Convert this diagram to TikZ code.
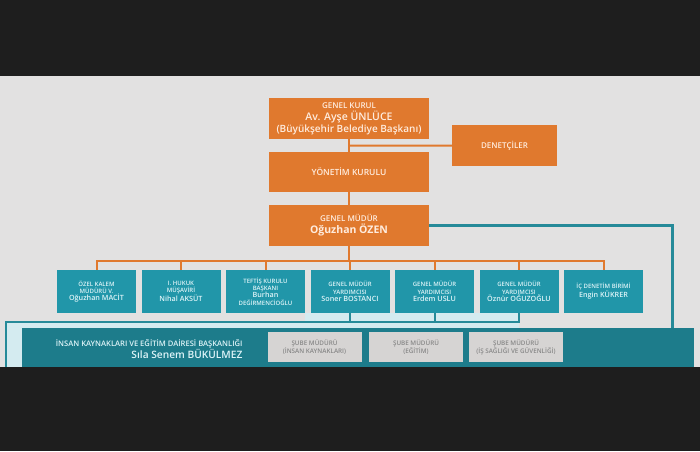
\documentclass[tikz,border=0pt]{standalone}
\usepackage{fontspec}
\IfFontExistsTF{Open Sans SemiBold}
	{\setmainfont{Open Sans SemiBold}[BoldFont=Open Sans Bold]}
	{\IfFontExistsTF{Open Sans Semibold}
		{\setmainfont{Open Sans Semibold}[BoldFont=Open Sans Bold]}
		{\setmainfont{Open Sans}}}
\usepackage{xcolor}
\usetikzlibrary{calc}
\definecolor{orgfill}{RGB}{224,121,46}
\definecolor{orgtext}{RGB}{255,236,222}
\definecolor{tealfill}{RGB}{33,150,169}
\definecolor{tealtext}{RGB}{222,244,248}
\definecolor{tealdark}{RGB}{29,124,139}
\definecolor{teallink}{RGB}{38,138,153}
\definecolor{framefill}{RGB}{212,235,240}
\definecolor{subefill}{RGB}{214,212,211}
\definecolor{subetext}{RGB}{135,135,135}
\definecolor{pagegrey}{RGB}{226,225,225}
\definecolor{bandblack}{RGB}{30,30,30}
\newcommand{\fsz}[2]{\fontsize{#1}{#2}\selectfont}
\tikzset{
	orgbox/.style={fill=orgfill, text=orgtext, align=center, inner sep=0pt,
			minimum width=160pt, minimum height=41pt},
	tealbox/.style={fill=tealfill, text=tealtext, align=center, inner sep=0pt,
			minimum width=79pt, minimum height=43pt, font=\fsz{6}{7.3}},
	subebox/.style={fill=subefill, text=subetext, align=center, inner sep=0pt,
			minimum width=94pt, minimum height=30pt, font=\fsz{6.3}{7.8}},
	orgline/.style={draw=orgfill, line width=2pt},
	tline/.style={draw=teallink, line width=2pt},
	gmline/.style={draw=teallink, line width=3pt}
}

\begin{document}
\begin{tikzpicture}[x=1pt,y=-1pt]
		\fill[bandblack] (0,0) rectangle (700,451);
		\fill[pagegrey] (0,76) rectangle (700,367);
		% light frame round the daire
		\fill[framefill] (6,322) rectangle (519,367);
		\fill[framefill] (305,313) rectangle (519,322);

		\node[orgbox] (gk) at (349,118.5) {\fsz{8}{10.5}GENEL KURUL\\\fsz{10.5}{12.5}Av. Ayşe ÜNLÜCE\\(Büyükşehir Belediye Başkanı)};
		\node[orgbox, minimum height=40pt] (yk) at (349,172) {\fsz{8.5}{10}YÖNETİM KURULU};
		\node[orgbox, minimum width=105pt] (dn) at (504.5,145.5) {\fsz{8}{10}DENETÇİLER};
		\node[orgbox] (gm) at (349,225.5) {\fsz{8}{10.5}GENEL MÜDÜR\\\fsz{10.5}{12.5}\bfseries Oğuzhan ÖZEN};

		\node[tealbox] (b1) at (96.5,291.5) {ÖZEL KALEM\\MÜDÜRÜ V.\\\fsz{7.2}{8.5}Oğuzhan MACİT};
		\node[tealbox] (b2) at (181,291.5) {I. HUKUK\\MÜŞAVİRİ\\\fsz{7.2}{8.5}Nihal AKSÜT};
		\node[tealbox] (b3) at (265.5,291.5) {TEFTİŞ KURULU\\BAŞKANI\\\fsz{7.2}{8.5}Burhan\\DEĞİRMENCİOĞLU};
		\node[tealbox] (b4) at (350,291.5) {GENEL MÜDÜR\\YARDIMCISI\\\fsz{7.2}{8.5}Soner BOSTANCI};
		\node[tealbox] (b5) at (434.5,291.5) {GENEL MÜDÜR\\YARDIMCISI\\\fsz{7.2}{8.5}Erdem USLU};
		\node[tealbox] (b6) at (519,291.5) {GENEL MÜDÜR\\YARDIMCISI\\\fsz{7.2}{8.5}Öznür OĞUZOĞLU};
		\node[tealbox] (b7) at (603.5,291.5) {İÇ DENETİM BİRİMİ\\\fsz{7.2}{8.5}Engin KÜKRER};

		\node[fill=tealdark, minimum width=672pt, minimum height=39pt, inner sep=0pt] (bar) at (358,347.5) {};
		\node[text=tealtext, align=right, anchor=east] (dbk) at (246,349) {\fsz{7.6}{15}İNSAN KAYNAKLARI VE EĞİTİM DAİRESİ BAŞKANLIĞI\\\fsz{10.2}{12}Sıla Senem BÜKÜLMEZ};
		\node[subebox] (s1) at (314.5,347) {ŞUBE MÜDÜRÜ\\(İNSAN KAYNAKLARI)};
		\node[subebox] (s2) at (416,347) {ŞUBE MÜDÜRÜ\\(EĞİTİM)};
		\node[subebox] (s3) at (516,347) {ŞUBE MÜDÜRÜ\\(İŞ SAĞLIĞI VE GÜVENLİĞİ)};

		% orange links
		\draw[orgline] (gk) -- (yk);
		\draw[orgline] ($(gk.south)!0.5!(yk.north)$) -- (dn.west);
		\draw[orgline] (yk) -- (gm);
		\coordinate (bus) at (349,261);
		\draw[orgline] (gm.south) -- (bus);
		\draw[orgline] (b1.north) |- (bus) -| (b7.north);
		\foreach \i in {2,...,6}
			\draw[orgline] (b\i.north) -- (b\i.north |- bus);

		% teal links
		\draw[gmline] (gm.east) -| ($(bar.north east)+(-22,0)$);
		\coordinate (frm) at (6,322);
		\coordinate (frmend) at (6,367);
		\draw[tline] (b6.south) |- (frm) -- (frmend);
		\draw[tline] (b4.south) -- (b4.south |- frm);
		\draw[tline] (b5.south) -- (b5.south |- frm);
	\end{tikzpicture}
\end{document}
